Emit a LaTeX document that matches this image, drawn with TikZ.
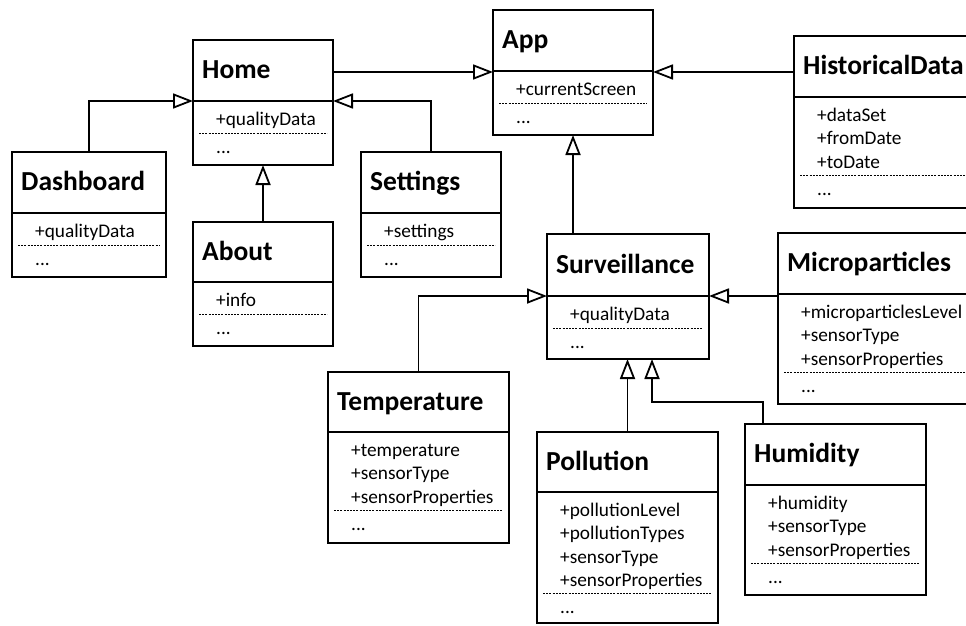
\documentclass[tikz,border=0pt]{standalone}
\usepackage{fontspec}
\setmainfont{Carlito}
\usetikzlibrary{arrows.meta,calc}
\tikzset{
  clsbox/.style={draw, line width=2.6pt, inner sep=0pt, outer sep=0pt},
  divline/.style={line width=2.6pt},
  dotline/.style={line width=0.9pt, dash pattern=on 2pt off 1.2pt},
  clstitle/.style={anchor=base west, inner sep=0pt, font=\bfseries\fontsize{27.5}{30}\selectfont},
  attr/.style={anchor=base west, inner sep=0pt, font=\fontsize{19.3}{22}\selectfont},
  inh/.style={draw, line width=1.8pt, -{Triangle[open, length=20pt, width=15pt, line width=1.8pt]}},
}
% #1 id, #2 x1, #3 y1, #4 x2, #5 y2, #6 ydiv, #7 title, #8 attrs, #9 number of attrs
\newcommand\umlcls[9]{%
  \node[clsbox, minimum width={(#4-#2)*1pt}, minimum height={(#5-#3)*1pt}, anchor=north west] (#1) at (#2,#3) {};
  \draw[divline] (#2,#6) -- (#4,#6);
  \node[clstitle] (#1-t) at ({#2+9},{(#3+#6)/2+8}) {#7};
  \foreach \a [count=\i] in {#8} {
    \node[attr] (#1-a\i) at ({#2+23},{#6+24.5+23.3*(\i-1)}) {\a};
  }
  \draw[dotline] ({#2+6},{#6+24.5+23.3*(#9-1)+7.5}) -- ({#4-6},{#6+24.5+23.3*(#9-1)+7.5});
  \node[attr] (#1-d) at ({#2+23},{#6+24.5+23.3*(#9-1)+27.5}) {...};
}
\begin{document}
\begin{tikzpicture}[x=1pt, y=-1pt]
\useasboundingbox (0,0) rectangle (966,626);
\clip (0,0) rectangle (966,626);

\umlcls{app}{493}{10}{653}{135}{71}{App}{+currentScreen}{1}
\umlcls{home}{193}{40}{333}{165}{101}{Home}{+qualityData}{1}
\umlcls{hist}{794}{36}{985}{208}{97}{HistoricalData}{+dataSet,+fromDate,+toDate}{3}
\umlcls{dashboard}{12}{152}{166}{277}{213}{Dashboard}{+qualityData}{1}
\umlcls{settings}{361}{152}{501}{277}{213}{Settings}{+settings}{1}
\umlcls{about}{193}{222}{333}{346}{282}{About}{+info}{1}
\umlcls{surv}{547}{234}{709}{359}{296}{Surveillance}{+qualityData}{1}
\umlcls{micro}{778}{233}{985}{404}{294}{Microparticles}{+microparticlesLevel,+sensorType,+sensorProperties}{3}
\umlcls{temp}{328}{372}{509}{543}{432}{Temperature}{+temperature,+sensorType,+sensorProperties}{3}
\umlcls{poll}{537}{432}{718}{623}{492}{Pollution}{+pollutionLevel,+pollutionTypes,+sensorType,+sensorProperties}{4}
\umlcls{hum}{745}{424}{926}{595}{485}{Humidity}{+humidity,+sensorType,+sensorProperties}{3}

\coordinate (homeL) at (193,101);
\coordinate (homeR) at (333,101);
\coordinate (appL) at (493,72);
\coordinate (appR) at (653,72);
\coordinate (survL) at (547,296);
\coordinate (survR) at (709,296);
\coordinate (survB2) at (652,359);

\draw[inh] (dashboard.north) |- (homeL);
\draw[inh] (settings.north) |- (homeR);
\draw[inh] (about.north) -- (home.south);
\draw[inh] (home.east |- appL) -- (appL);
\draw[inh] (hist.west |- appR) -- (appR);
\draw[inh] (surv.north -| app.south) -- (app.south);
\draw[inh] (micro.west |- survR) -- (survR);
\draw[inh] (temp.north) |- (survL);
\draw[inh] (poll.north) -- (poll.north |- surv.south);
\draw[inh] ([xshift=-72.5pt]hum.north) -- ++(0,-22) -| (survB2);
\end{tikzpicture}
\end{document}
